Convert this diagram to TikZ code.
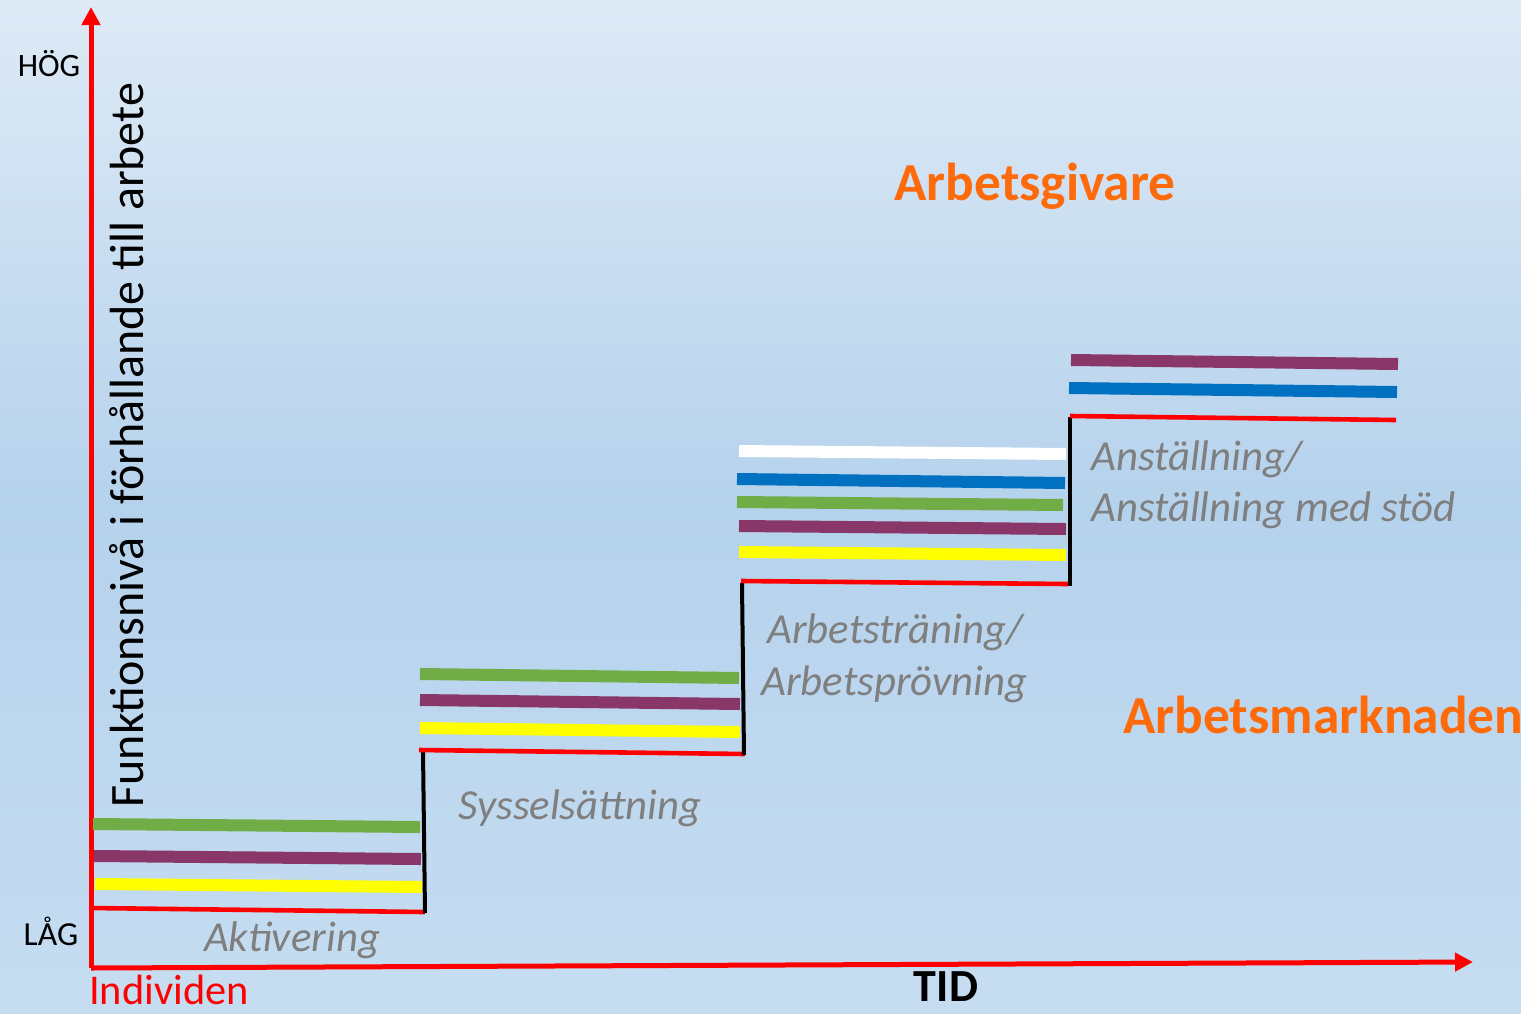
\documentclass[tikz,border=0pt]{standalone}
\usepackage{fontspec}
\setmainfont{Carlito}
\usetikzlibrary{arrows.meta}
\definecolor{bgtop}{HTML}{DEEAF6}
\definecolor{bgmid}{HTML}{B5D2EC}
\definecolor{bgbot}{HTML}{C6DDF1}
\definecolor{lvgreen}{HTML}{70AD47}
\definecolor{lvpurple}{HTML}{893668}
\definecolor{lvyellow}{HTML}{FFFF00}
\definecolor{lvblue}{HTML}{0070C0}
\definecolor{lvorange}{HTML}{FF6A0A}
\definecolor{lvgray}{HTML}{7F7F7F}
\tikzset{
	axis/.style={draw=red, line width=2.5pt, -{Triangle[length=9pt, width=9pt]}},
	floor/.style={draw=red, line width=2.3pt},
	riser/.style={draw=black, line width=2pt},
	bar/.style={line width=6pt},
	steplabel/.style={text=lvgray, font=\fontsize{21.4}{25}\selectfont\itshape, inner sep=0pt},
	sidelabel/.style={text=lvorange, font=\fontsize{26.7}{30}\selectfont\bfseries, inner sep=0pt}
}
\def\bars(#1:#2)(#3:#4)#5{\draw[bar, #5] (#1, #3) -- (#2, #4);}
\begin{document}
\begin{tikzpicture}[x=0.5pt, y=-0.5pt]
			%%%%% START %%%%%
			
			\shade[top color=bgtop, bottom color=bgbot, middle color=bgmid] (0, 0) rectangle (1521, 1013);
			\useasboundingbox (0, 0) rectangle (1521, 1013);
			
			% axes
			\coordinate (origin) at (91, 968);
			\coordinate (ytip) at (91, 7);
			\coordinate (xtip) at (1473, 962);
			\draw[axis] (origin) -- (ytip);
			\draw[axis] (origin) -- (xtip);
			
			\node[font=\fontsize{16.3}{19}\selectfont, inner sep=0pt] (hog) at (49, 64) {HÖG};
			\node[font=\fontsize{16.8}{19}\selectfont, inner sep=0pt] (lag) at (51, 931) {LÅG};
			\node[text=red, font=\fontsize{21.2}{25}\selectfont, inner sep=0pt] (individ) at (169, 990) {Individen};
			\node[font=\fontsize{23}{27}\selectfont\bfseries, inner sep=0pt] (tid) at (946, 987) {TID};
			\node[rotate=90, font=\fontsize{24}{28}\selectfont, inner sep=0pt] (ylabel) at (127, 445) {Funktionsnivå i förhållande till arbete};
			
			% step 1
			\bars(93:420)(824:827){lvgreen}
			\bars(94:421)(856:859){lvpurple}
			\bars(95:422)(884:887){lvyellow}
			\draw[floor] (91, 908) -- (425, 912);
			\draw[riser] (425, 913) -- (423, 751);
			
			% step 2
			\bars(420:739)(674:678){lvgreen}
			\bars(420:740)(700:704){lvpurple}
			\bars(420:740)(728:732){lvyellow}
			\draw[floor] (419, 750) -- (745, 754);
			\draw[riser] (744, 755) -- (742, 583);
			
			% step 3
			\bars(739:1066)(451:454){white}
			\bars(737:1065)(479:483){lvblue}
			\bars(737:1063)(502:505){lvgreen}
			\bars(739:1066)(526:529){lvpurple}
			\bars(739:1066)(552:555){lvyellow}
			\draw[floor] (741, 581) -- (1068, 584);
			\draw[riser] (1070, 586) -- (1070, 417);
			
			% step 4
			\bars(1071:1398)(360:364){lvpurple}
			\bars(1069:1397)(388:392){lvblue}
			\draw[floor] (1070, 416) -- (1396, 420);
			
			% labels
			\node[steplabel] (aktiv) at (292, 940) {Aktivering};
			\node[steplabel] (syssel) at (580, 808) {Sysselsättning};
			\node[steplabel, anchor=west] (traen) at (767, 632) {Arbetsträning/};
			\node[steplabel, anchor=west] (provn) at (761, 684) {Arbetsprövning};
			\node[steplabel, anchor=west] (anst) at (1091, 459) {Anställning/};
			\node[steplabel, anchor=west] (anstod) at (1091, 510) {Anställning med stöd};
			
			\node[sidelabel] (givare) at (1035, 186) {Arbetsgivare};
			\node[sidelabel, anchor=west] (marknad) at (1123, 715) {Arbetsmarknaden};
			
			%%%%% END %%%%%
		\end{tikzpicture}
\end{document}
